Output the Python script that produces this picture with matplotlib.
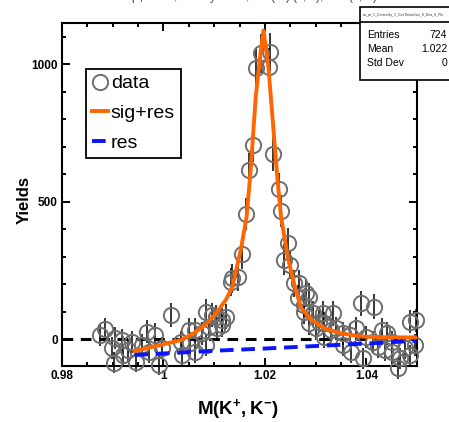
import matplotlib
matplotlib.use("Agg")
import matplotlib.pyplot as plt
from matplotlib.ticker import MultipleLocator, FixedLocator, FixedFormatter
from matplotlib.patches import Rectangle
from matplotlib.lines import Line2D

plt.rcParams['font.family'] = ['Liberation Sans', 'DejaVu Sans']
plt.rcParams['mathtext.fontset'] = 'custom'
plt.rcParams['mathtext.rm'] = 'Liberation Sans'
plt.rcParams['mathtext.bf'] = 'Liberation Sans:bold'
plt.rcParams['mathtext.default'] = 'rm'

# ---------------- data ----------------
data_x = [0.9874, 0.9885, 0.9898, 0.9902, 0.9905, 0.9918, 0.9921, 0.9931, 0.9938, 0.9945,
          0.9958, 0.9968, 0.9971, 0.9984, 0.9991, 0.9997, 1.0014, 1.0034, 1.0037, 1.0050,
          1.0053, 1.0063, 1.0063, 1.0077, 1.0083, 1.0083, 1.0090, 1.0096, 1.0103, 1.0106,
          1.0116, 1.0116, 1.0123, 1.0133, 1.0136, 1.0148, 1.0154, 1.0162, 1.0169, 1.0176,
          1.0182, 1.0192, 1.0208, 1.0211, 1.0217, 1.0227, 1.0232, 1.0237, 1.0246, 1.0250,
          1.0258, 1.0265, 1.0268, 1.0278, 1.0278, 1.0281, 1.0288, 1.0288, 1.0294, 1.0301,
          1.0307, 1.0314, 1.0317, 1.0317, 1.0331, 1.0334, 1.0341, 1.0354, 1.0354, 1.0367,
          1.0370, 1.0380, 1.0390, 1.0393, 1.0400, 1.0414, 1.0416, 1.0423, 1.0430, 1.0436,
          1.0440, 1.0450, 1.0450, 1.0463, 1.0466, 1.0476, 1.0486, 1.0486, 1.0496, 1.0499]
data_y = [16, 36, -33, -85, 4, -3, -57, -39, -9, -81,
          -21, 28, -45, 16, -93, -33, 88, -9, -57, 34,
          -15, -45, 34, 22, 100, -20, 46, 88, 80, 40,
          70, 52, 82, 209, 222, 227, 310, 454, 617, 705,
          985, 1040, 990, 1044, 673, 545, 467, 290, 351, 270,
          203, 149, 203, 125, 100, 167, 155, 58, 94, 40,
          64, 94, 58, 10, 34, 94, 40, 22, -21, 16,
          -45, 40, 131, -69, 10, -9, 118, -27, 34, -39,
          22, -45, -9, -105, -69, -33, -57, 64, -21, 70]
data_err = [40, 42, 40, 38, 40, 40, 40, 40, 40, 38,
            40, 42, 40, 42, 38, 40, 45, 40, 40, 42,
            40, 40, 42, 42, 45, 40, 42, 45, 45, 42,
            45, 42, 45, 52, 52, 52, 55, 58, 62, 62,
            70, 70, 70, 70, 62, 58, 58, 55, 55, 52,
            50, 48, 50, 45, 45, 48, 48, 42, 45, 42,
            42, 45, 42, 40, 42, 45, 42, 42, 40, 42,
            40, 42, 45, 38, 40, 40, 45, 40, 42, 40,
            42, 40, 40, 38, 38, 40, 38, 42, 40, 42]

fit_x = [0.9943, 0.9994, 1.0034, 1.0060, 1.0086, 1.0106, 1.0123, 1.0136, 1.0153, 1.0164,
         1.0172, 1.0182, 1.0192, 1.01973, 1.0207, 1.0215, 1.0225, 1.0232, 1.0245, 1.0258,
         1.0271, 1.0291, 1.0317, 1.0350, 1.0390, 1.0450, 1.0499]
fit_y = [-42, -21, -3, 22, 58, 100, 143, 191, 330, 445,
         615, 881, 1050, 1123, 990, 808, 578, 445, 300, 200,
         116, 72, 40, 22, 10, 7, 7]

res_x = [0.9943, 1.0106, 1.0205, 1.0337, 1.0436, 1.0499]
res_y = [-57, -41, -33, -21, -12, -5]

x_ticks = [0.98, 1.0, 1.02, 1.04]
x_tick_labels = ['0.98', '1', '1.02', '1.04']
y_ticks = [0, 500, 1000]
y_tick_labels = ['0', '500', '1000']

stats_labels = ['Entries', 'Mean', 'Std Dev']
stats_values = ['724', '1.022', '0']

# ---------------- figure ----------------
W, H = 449, 422
fig = plt.figure(figsize=(W / 100, H / 100), dpi=100)
ax = fig.add_axes([62 / W, 56 / H, 355 / W, 343 / H])

ax.set_xlim(0.98, 1.05)
ax.set_ylim(-97, 1150)

# zero line
ax.axhline(0, color='black', lw=2.2, ls=(0, (3.5, 2.5)), zorder=1)

# data
ax.errorbar(data_x, data_y, yerr=data_err, fmt='none', ecolor='black',
            elinewidth=1.1, capsize=0, zorder=2, clip_on=False)
ax.plot(data_x, data_y, 'o', ms=11, mfc='none', mec='#6e6e6e', mew=1.4,
        zorder=3, clip_on=False)

# curves
ax.plot(res_x, res_y, color='#0a14ff', lw=2.8, ls=(0, (3.5, 2)), zorder=4)
ax.plot(fit_x, fit_y, color='#ff6600', lw=2.8, zorder=5, solid_joinstyle='round')

# ticks
ax.xaxis.set_major_locator(FixedLocator(x_ticks))
ax.xaxis.set_major_formatter(FixedFormatter(x_tick_labels))
ax.xaxis.set_minor_locator(MultipleLocator(0.005))
ax.yaxis.set_major_locator(FixedLocator(y_ticks))
ax.yaxis.set_major_formatter(FixedFormatter(y_tick_labels))
ax.yaxis.set_minor_locator(MultipleLocator(100))
ax.tick_params(which='both', direction='in', top=True, right=True, width=1.4)
ax.tick_params(which='major', length=6, labelsize=8.5, pad=3)
ax.tick_params(which='minor', length=3)
for lab in ax.get_xticklabels() + ax.get_yticklabels():
    lab.set_fontweight('bold')
for sp in ax.spines.values():
    sp.set_linewidth(1.5)

# axis labels
fig.text(24 / W, 1 - 200 / H, 'Yields', rotation=90, ha='center', va='center',
         fontsize=12, fontweight='bold')
fig.text(238 / W, 1 - 409 / H, r'$\mathbf{M(K^{+},K^{-})}$', ha='center', va='center',
         fontsize=13.5)

# legend
handles = [
    Line2D([], [], ls='none', marker='o', ms=11, mfc='none', mec='#6e6e6e', mew=1.4),
    Line2D([], [], color='#ff6600', lw=2.8),
    Line2D([], [], color='#0a14ff', lw=2.8, ls=(0, (3.5, 2))),
]
leg = ax.legend(handles, ['data', 'sig+res', 'res'], loc='upper left',
                bbox_to_anchor=((86 - 62) / 355, (366 - 69) / 343),
                fontsize=14, frameon=True, fancybox=False, framealpha=1,
                edgecolor='black', handlelength=0.85, handletextpad=0.12,
                borderpad=0.3, labelspacing=0.62, borderaxespad=0)
leg.get_frame().set_linewidth(1.3)
leg._legend_box.align = 'left'

# title (cut off at the top of the canvas, as in the reference)
fig.text(240 / W, 1 + 3 / H,
         r'0.0 < p$_{T}$ < 0.5, 0.0 < y < 1.0, cos(θ*) (0, 1), dca (0, 1)',
         ha='center', va='center', fontsize=8.5, color='#444444')

# stats box
bx0, by0 = 360 / W, 1 - 80 / H
box = Rectangle((bx0, by0), (W + 5 - 360) / W, (80 - 7) / H, transform=fig.transFigure,
                facecolor='white', edgecolor='black', lw=1.2, zorder=10)
fig.patches.append(box)
fig.add_artist(Line2D([bx0, 1.0], [1 - 22 / H, 1 - 22 / H], transform=fig.transFigure,
                      color='black', lw=1.2, zorder=11))
fig.text(403 / W, 1 - 15 / H, 'aa_pt_1_Centrality_1_CosThetaStar_0_Dca_0_Phi',
         ha='center', va='center', fontsize=2.5, color='#333333', zorder=12)
for i, (lab, val) in enumerate(zip(stats_labels, stats_values)):
    yy = 1 - (35 + 14 * i) / H
    fig.text(367 / W, yy, lab, ha='left', va='center', fontsize=7.5, zorder=12)
    fig.text(447 / W, yy, val, ha='right', va='center', fontsize=7.5, zorder=12)

fig.savefig('out.png', dpi=100)
